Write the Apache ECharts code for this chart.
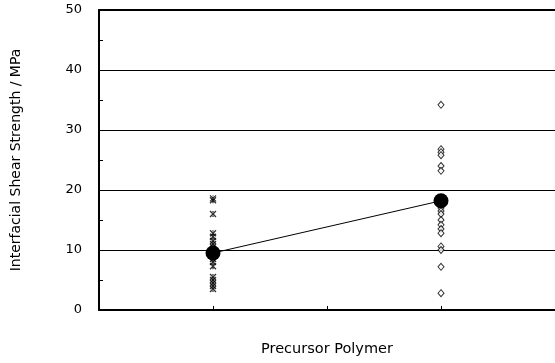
<!DOCTYPE html>
<html>
<head>
<meta charset="utf-8">
<script src="https://cdn.jsdelivr.net/npm/echarts@6/dist/echarts.min.js"></script>
<style>
html, body { margin: 0; padding: 0; background: #fff; }
#chart { width: 555px; height: 363px; }
</style>
</head>
<body>
<div id="chart"></div>
<script>
// x positions of the two sample groups
const groupX = [1, 3];
// individual measurements (MPa)
const groupA = [18.6, 18.3, 16.0, 12.8, 12.2, 11.5, 11.0, 10.5, 8.5, 8.0, 7.3, 5.5, 5.0, 4.5, 4.0, 3.5];
const groupB = [34.2, 26.8, 26.3, 25.8, 24.0, 23.2, 17.0, 16.5, 16.0, 15.0, 14.2, 13.5, 12.8, 10.6, 10.0, 7.2, 2.8];
// mean values
const means = [9.5, 18.2];
const yTicks = [0, 10, 20, 30, 40, 50];

const font = '"DejaVu Sans", sans-serif';
const crossPath = 'path://M0,0L10,10M10,0L0,10M5,0L5,2M5,8L5,10M3,5L7,5';

const chart = echarts.init(document.getElementById('chart'));

chart.setOption({
    animation: false,
    grid: { left: 99, top: 10, bottom: 53, right: -4 },
    xAxis: [
        {
            type: 'value', min: 0, max: 4, interval: 1,
            name: 'Precursor Polymer', nameLocation: 'middle', nameGap: 32,
            nameTextStyle: { color: '#000', fontSize: 14.5, fontFamily: font },
            axisLine: { show: true, lineStyle: { color: '#000', width: 2 } },
            axisTick: { show: true, inside: true, length: 4, lineStyle: { color: '#000' } },
            axisLabel: { show: false },
            splitLine: { show: false }
        },
        {
            type: 'value', min: 0, max: 4, position: 'top',
            axisLine: { show: true, onZero: false, lineStyle: { color: '#000', width: 2 } },
            axisTick: { show: false }, axisLabel: { show: false }, splitLine: { show: false }
        }
    ],
    yAxis: {
        type: 'value', min: yTicks[0], max: yTicks[yTicks.length - 1], interval: 10,
        name: 'Interfacial Shear Strength / MPa', nameLocation: 'middle', nameGap: 76,
        nameTextStyle: { color: '#000', fontSize: 14, fontFamily: font },
        axisLine: { show: true, lineStyle: { color: '#000', width: 2 } },
        axisTick: { show: false, inside: true, length: 4 },
        minorTick: { show: true, splitNumber: 2, length: 4, lineStyle: { color: '#000' } },
        axisLabel: { color: '#000', fontSize: 13, fontFamily: font, margin: 17 },
        splitLine: { show: true, lineStyle: { color: '#000', width: 1 } }
    },
    series: [
        {
            type: 'scatter',
            data: groupA.map(v => [groupX[0], v]),
            symbol: crossPath, symbolSize: 6,
            itemStyle: { color: 'rgba(0,0,0,0)', borderColor: '#000', borderWidth: 1.3 }
        },
        {
            type: 'scatter',
            data: groupB.map(v => [groupX[1], v]),
            symbol: 'diamond', symbolSize: [6, 7],
            itemStyle: { color: '#fff', borderColor: '#000', borderWidth: 1 }
        },
        {
            type: 'line',
            data: means.map((v, i) => [groupX[i], v]),
            symbol: 'circle', symbolSize: 15,
            lineStyle: { color: '#000', width: 1 },
            itemStyle: { color: '#000' },
            z: 5
        }
    ]
});
</script>
</body>
</html>
